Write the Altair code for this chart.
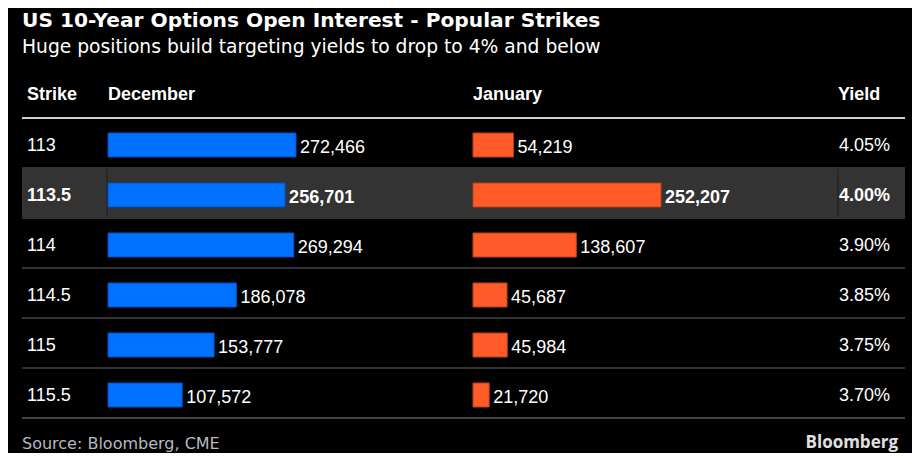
import altair as alt
import pandas as pd

# ---- data ----
strikes = ["113", "113.5", "114", "114.5", "115", "115.5"]
december = [272466, 256701, 269294, 186078, 153777, 107572]
january = [54219, 252207, 138607, 45687, 45984, 21720]
yields = ["4.05%", "4.00%", "3.90%", "3.85%", "3.75%", "3.70%"]
highlight = "113.5"

headers = ["Strike", "December", "January", "Yield"]
title_text = "US 10-Year Options Open Interest - Popular Strikes"
subtitle_text = "Huge positions build targeting yields to drop to 4% and below"
source_text = "Source: Bloomberg, CME"
brand_text = "Bloomberg"

df = pd.DataFrame({
    "strike": strikes,
    "dec": december,
    "jan": january,
    "yield": yields,
})
df["dec_label"] = [f"{v:,}" for v in december]
df["jan_label"] = [f"{v:,}" for v in january]
df["hl"] = [s == highlight for s in strikes]

W, H = 904, 445
BLUE = "#0070ff"
ORANGE = "#ff5a28"
FONT = "Liberation Sans"

row_scale = alt.Scale(domain=strikes, range=[110, 410],
                      paddingInner=0, paddingOuter=0)
y_enc = alt.Y("strike:N", sort=strikes, scale=row_scale, axis=None)

base = alt.Chart(df)

dec_scale = alt.Scale(domain=[0, max(december)], range=[100, 288])
jan_scale = alt.Scale(domain=[0, max(january)], range=[465, 653])

layers = []

# highlighted row background
layers.append(
    base.transform_filter(alt.datum.hl).mark_rect(color="#333333").encode(
        y=y_enc, x=alt.value(14), x2=alt.value(897))
)
# column dividers in highlighted row
for xv in (99, 830):
    layers.append(
        base.transform_filter(alt.datum.hl).mark_rect(color="#1c1c1c").encode(
            y=y_enc, x=alt.value(xv - 0.5), x2=alt.value(xv + 0.5))
    )

# separators
layers.append(
    base.transform_filter(alt.datum.strike != strikes[0]).mark_rule(
        color="#333333", strokeWidth=2).encode(
        y=alt.Y("strike:N", sort=strikes, bandPosition=0, scale=row_scale, axis=None),
        x=alt.value(14), x2=alt.value(897))
)
layers.append(
    base.transform_filter(alt.datum.strike == strikes[0]).mark_rule(
        color="#d0d0d0", strokeWidth=2).encode(
        y=alt.Y("strike:N", sort=strikes, bandPosition=0, scale=row_scale, axis=None),
        x=alt.value(14), x2=alt.value(897))
)
layers.append(
    base.transform_filter(alt.datum.strike == strikes[-1]).mark_rule(
        color="#444444", strokeWidth=2).encode(
        y=alt.Y("strike:N", sort=strikes, bandPosition=1, scale=row_scale, axis=None),
        x=alt.value(14), x2=alt.value(897))
)

# bars
layers.append(
    base.mark_bar(height=24, yOffset=2, color=BLUE, stroke="#0050c0",
                  strokeWidth=1).encode(
        y=y_enc, x=alt.X("dec:Q", scale=dec_scale, axis=None))
)
layers.append(
    base.mark_bar(height=24, yOffset=2, color=ORANGE, stroke="#b84018",
                  strokeWidth=1).encode(
        y=y_enc, x=alt.X("jan:Q", scale=jan_scale, axis=None))
)


def text_pair(field, x, align, dy, size=18):
    out = []
    for bold in (False, True):
        flt = alt.datum.hl if bold else ~alt.datum.hl
        out.append(
            base.transform_filter(flt).mark_text(
                align=align, baseline="alphabetic", dy=dy,
                font=FONT, fontSize=size, color="#ffffff",
                fontWeight="bold" if bold else "normal").encode(
                y=y_enc, x=x, text=f"{field}:N")
        )
    return out


def value_pair(field, label, scale, dy):
    out = []
    for bold in (False, True):
        flt = alt.datum.hl if bold else ~alt.datum.hl
        out.append(
            base.transform_filter(flt).mark_text(
                align="left", baseline="alphabetic", dy=dy, dx=4,
                font=FONT, fontSize=18, color="#ffffff",
                fontWeight="bold" if bold else "normal").encode(
                y=y_enc, x=alt.X(f"{field}:Q", scale=scale, axis=None),
                text=f"{label}:N")
        )
    return out


layers += text_pair("strike", alt.value(19), "left", 7.5)
layers += text_pair("yield", alt.value(882), "right", 7.5)
layers += value_pair("dec", "dec_label", dec_scale, 9.5)
layers += value_pair("jan", "jan_label", jan_scale, 9.5)

# headers
hdr_df = pd.DataFrame({"h": headers, "x": [19, 100, 465, 830]})
layers.append(
    alt.Chart(hdr_df).mark_text(align="left", baseline="alphabetic",
                                font=FONT, fontSize=18, fontWeight="bold",
                                color="#ffffff").encode(
        x=alt.X("x:Q", scale=alt.Scale(domain=[0, W], range=[0, W]), axis=None),
        y=alt.value(91.5), text="h:N")
)


def note(text, x, y, size, weight="normal", color="#ffffff", align="left",
         font="DejaVu Sans"):
    return alt.Chart(pd.DataFrame({"t": [text]})).mark_text(
        align=align, baseline="alphabetic", font=font, fontSize=size,
        fontWeight=weight, color=color).encode(
        x=alt.value(x), y=alt.value(y), text="t:N")


layers.append(note(title_text, 14, 18.7, 20.2, weight="bold"))
layers.append(note(subtitle_text, 14, 45, 18.7))
layers.append(note(source_text, 14, 440.5, 16, color="#b8b8c0"))
layers.append(note(brand_text, 890, 440, 17, weight="bold", color="#e0e0e0",
                   align="right", font="Open Sans"))

chart = alt.layer(*layers).resolve_scale(x="independent").properties(
    width=W, height=H,
    autosize=alt.AutoSizeParams(type="none"),
    padding=0,
    background="#000000",
).configure_view(stroke=None)

chart.save("out.html", embed_options={"renderer": "svg", "actions": False})
